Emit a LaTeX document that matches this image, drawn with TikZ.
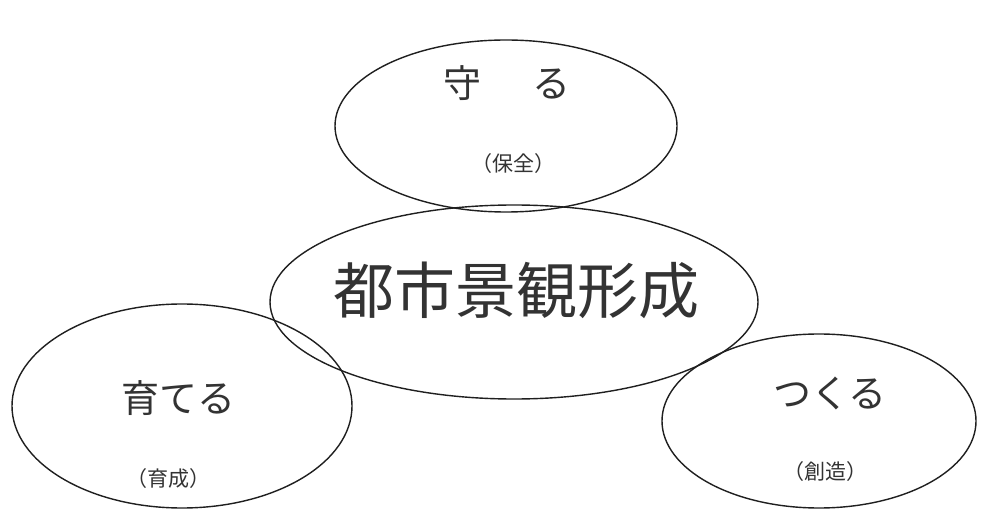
\documentclass[tikz,border=0pt]{standalone}
\usepackage{fontspec}
\newfontfamily\jp{Noto Sans CJK JP}
\definecolor{ink}{HTML}{1F1F1F}
\definecolor{txt}{HTML}{333333}
\tikzset{
  ring/.style={draw=ink, line width=1.4pt},
  big/.style={inner sep=0pt, text=txt, font=\jp\fontsize{61}{61}\selectfont},
  mid/.style={inner sep=0pt, text=txt, font=\jp\fontsize{38}{38}\selectfont},
  small/.style={inner sep=0pt, text=txt, font=\jp\fontsize{21}{21}\selectfont},
}
\begin{document}
\begin{tikzpicture}[x=1pt,y=-1pt]
\useasboundingbox (0,0) rectangle (985,510);
\fill[white] (0,0) rectangle (985,510);
% ellipse centres
\coordinate (ctop) at (506,126);
\coordinate (cmid) at (514,302);
\coordinate (cleft) at (182,406);
\coordinate (cright) at (819,421);
\draw[ring] (ctop) ellipse [x radius=171, y radius=86];
\draw[ring] (cmid) ellipse [x radius=244, y radius=97];
\draw[ring] (cleft) ellipse [x radius=170, y radius=102];
\draw[ring] (cright) ellipse [x radius=157, y radius=87];
% texts
\node[mid] (mamoru) at (507,83) {守\hspace{52pt}る};
\node[small] (hozen) at (513,164) {（保全）};
\node[big] (toshi) at (516,290) {都市景観形成};
\node[mid] (sodateru) at (178,398) {育てる};
\node[small] (ikusei) at (168,479) {（育成）};
\node[mid] (tsukuru) at (830,393) {つくる};
\node[small] (sozo) at (825,472) {（創造）};
\end{tikzpicture}
\end{document}
